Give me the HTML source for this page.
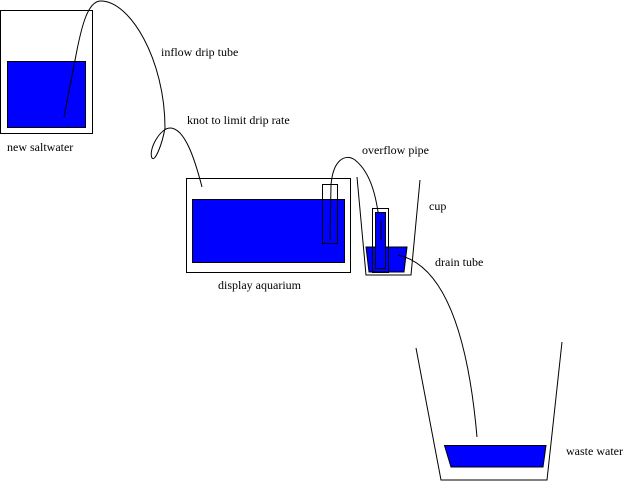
<!DOCTYPE html>
<html><head><style>body{margin:0;background:#fff}svg{display:block}</style></head><body>
<svg width="632" height="481" viewBox="0 0 632 481" xmlns="http://www.w3.org/2000/svg">
<g fill="none" stroke="#000" stroke-width="1">
<rect x="0.5" y="10.5" width="92" height="123"/>
<rect x="7.5" y="61.5" width="78" height="66" fill="#0000ff"/>
<path d="M64,117 L77,50 C82,25 88,2 100,1 C130,0 165,60 165,128 C162,145 155,162 152,158 C148,150 160,128 170,128 C185,128 195,160 202,187"/>
<rect x="186.5" y="178.5" width="164" height="94"/>
<rect x="192.5" y="199.5" width="152" height="63" fill="#0000ff"/>
<rect x="322.5" y="184.5" width="15" height="59"/>
<path d="M330,240 L331,185 C333,160 345,153 355,160 C370,172 378,195 381,240"/>
<path d="M357,177 L366,275 L411,275 L420,180"/>
<path d="M366,247 L407,247 L404,272 L369,272 Z" fill="#0000ff"/>
<rect x="372.5" y="208.5" width="16" height="64"/>
<rect x="375.5" y="212.5" width="10" height="56" fill="#0000ff"/>
<path d="M381,240 L381,220"/>
<path d="M398,255 C430,262 465,300 477,437"/>
<path d="M416,348 L441,480 L547,480 L562,342"/>
<path d="M444.5,445.5 L546,445.5 L543,467 L451,467 Z" fill="#0000ff"/>
</g>
<g font-family="Liberation Serif, serif" font-size="12" fill="#000">
<text x="7" y="151">new saltwater</text>
<text x="161" y="56">inflow drip tube</text>
<text x="187" y="124">knot to limit drip rate</text>
<text x="362" y="154">overflow pipe</text>
<text x="429" y="210">cup</text>
<text x="435" y="266">drain tube</text>
<text x="218" y="289">display aquarium</text>
<text x="566" y="455">waste water</text>
</g>
</svg>
</body></html>
